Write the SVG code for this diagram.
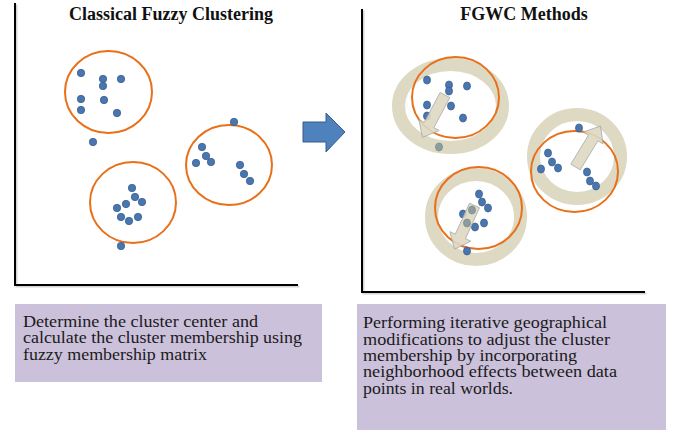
<svg xmlns="http://www.w3.org/2000/svg" width="676" height="430" viewBox="0 0 676 430">
  <style>
    .axis { fill: none; stroke: #000; stroke-width: 2; }
    .axis-shadow { fill: none; stroke: #888; stroke-width: 2; opacity: 0.35; }
    .title { font-family: "Liberation Serif", "Times New Roman", serif; font-size: 18px; font-weight: bold; fill: #111; text-anchor: middle; }
    .note { font-family: "Liberation Serif", "Times New Roman", serif; font-size: 16px; fill: #1a1a1a; }
    .box { fill: #CCC1DA; }
    .ring { fill: none; stroke: #DDD9C3; stroke-width: 13; }
    .member { fill: none; stroke: #E8701A; stroke-width: 2; }
    .pt { fill: #4A76B0; stroke: #3A5F8F; stroke-width: 0.8; }
    .pt-dim { fill: #8C9C9C; stroke: #7E8E8E; stroke-width: 0.8; }
    .shift { fill: #DDD9C3; stroke: #A6A6A6; stroke-width: 0.8; opacity: 0.9; }
  </style>
  <defs>
    <circle id="dot" r="3.7"/>
    <ellipse id="odot" rx="3.5" ry="4"/>
    <!-- block arrow pointing along +x, base centre at origin -->
    <path id="shift-arrow" d="M0,-5.5 L34,-5.5 L34,-11.5 L48,0 L34,11.5 L34,5.5 L0,5.5 Z"/>
  </defs>

  <rect width="676" height="430" fill="#fff"/>

  <!-- left panel: classical fuzzy clustering -->
  <g id="panel-classical">
    <path class="axis-shadow" d="M16.5,4.5 V286.5 H299.5"/>
    <path class="axis" d="M15,3 V285 H298"/>
    <text class="title" x="171" y="20">Classical Fuzzy Clustering</text>
  </g>

  <g id="cluster-c1">
    <ellipse class="member" cx="108.5" cy="92" rx="43.5" ry="41"/>
    <g class="pt">
      <use href="#dot" x="81" y="73"/>
      <use href="#dot" x="103" y="79"/>
      <use href="#dot" x="103" y="86"/>
      <use href="#dot" x="121" y="79"/>
      <use href="#dot" x="81" y="99"/>
      <use href="#dot" x="104" y="100"/>
      <use href="#dot" x="81" y="110"/>
      <use href="#dot" x="117" y="113"/>
      <use href="#dot" x="93" y="142"/>
    </g>
  </g>

  <g id="cluster-c2">
    <ellipse class="member" cx="133" cy="202.5" rx="43" ry="40.5"/>
    <g class="pt">
      <use href="#dot" x="132" y="188"/>
      <use href="#dot" x="135" y="197"/>
      <use href="#dot" x="142" y="202"/>
      <use href="#dot" x="126" y="204"/>
      <use href="#dot" x="117" y="208"/>
      <use href="#dot" x="121" y="217"/>
      <use href="#dot" x="129" y="221"/>
      <use href="#dot" x="138" y="217"/>
      <use href="#dot" x="121" y="246"/>
    </g>
  </g>

  <g id="cluster-c3">
    <ellipse class="member" cx="229" cy="165" rx="43" ry="40"/>
    <g class="pt">
      <use href="#dot" x="234" y="122"/>
      <use href="#dot" x="202" y="147"/>
      <use href="#dot" x="206" y="156"/>
      <use href="#dot" x="211" y="162"/>
      <use href="#dot" x="196" y="163"/>
      <use href="#dot" x="240" y="165"/>
      <use href="#dot" x="244" y="174"/>
      <use href="#dot" x="250" y="181"/>
    </g>
  </g>

  <!-- right panel: FGWC -->
  <g id="panel-fgwc">
    <path class="axis-shadow" d="M363.5,10.5 V293.5 H646.5"/>
    <path class="axis" d="M362,9 V292 H645"/>
    <text class="title" x="524" y="20">FGWC Methods</text>
  </g>

  <g id="cluster-g1">
    <ellipse class="ring" cx="450.5" cy="106" rx="52" ry="41.5"/>
    <ellipse class="member" cx="455.5" cy="97.5" rx="43.5" ry="40.5"/>
    <g class="pt">
      <use href="#odot" x="427" y="80"/>
      <use href="#odot" x="449" y="85"/>
      <use href="#odot" x="449" y="91"/>
      <use href="#odot" x="467" y="86"/>
      <use href="#odot" x="427" y="105"/>
      <use href="#odot" x="451" y="106"/>
      <use href="#odot" x="427" y="116"/>
      <use href="#odot" x="463" y="118"/>
    </g>
    <use class="shift" href="#shift-arrow" transform="translate(445,95) rotate(118)"/>
    <use class="pt-dim" href="#odot" x="439" y="147"/>
  </g>

  <g id="cluster-g2">
    <ellipse class="ring" cx="577" cy="156.5" rx="43.5" ry="42"/>
    <ellipse class="member" cx="574.5" cy="171.5" rx="43.5" ry="40.5"/>
    <g class="pt">
      <use href="#odot" x="548" y="153"/>
      <use href="#odot" x="552" y="162"/>
      <use href="#odot" x="558" y="168"/>
      <use href="#odot" x="541" y="169"/>
      <use href="#odot" x="587" y="172"/>
      <use href="#odot" x="590" y="181"/>
      <use href="#odot" x="596" y="186"/>
    </g>
    <use class="shift" href="#shift-arrow" transform="translate(575.5,167) rotate(-58.6)"/>
    <use class="pt" href="#odot" x="579" y="128"/>
  </g>

  <g id="cluster-g3">
    <ellipse class="ring" cx="476" cy="217" rx="44.5" ry="42.5"/>
    <ellipse class="member" cx="478.5" cy="208" rx="43.5" ry="41"/>
    <g class="pt">
      <use href="#odot" x="479" y="194"/>
      <use href="#odot" x="482" y="202"/>
      <use href="#odot" x="488" y="208"/>
      <use href="#odot" x="463" y="214"/>
      <use href="#odot" x="475" y="227"/>
      <use href="#odot" x="484" y="223"/>
      <use href="#odot" x="467" y="251"/>
    </g>
    <use class="shift" href="#shift-arrow" transform="translate(474.5,205.5) rotate(114.6)"/>
    <g class="pt-dim">
      <use href="#odot" x="472" y="210"/>
      <use href="#odot" x="467" y="223"/>
    </g>
  </g>

  <!-- captions -->
  <g id="note-classical">
    <rect class="box" x="15" y="304" width="307" height="78"/>
    <text class="note" x="23" y="327" textLength="235" lengthAdjust="spacingAndGlyphs">Determine the cluster center and</text>
    <text class="note" x="23" y="343.3" textLength="279" lengthAdjust="spacingAndGlyphs">calculate the cluster membership using</text>
    <text class="note" x="23" y="359.6" textLength="184" lengthAdjust="spacingAndGlyphs">fuzzy membership matrix</text>
  </g>

  <g id="note-fgwc">
    <rect class="box" x="357" y="304" width="309" height="126"/>
    <text class="note" x="363" y="328.3" textLength="244" lengthAdjust="spacingAndGlyphs">Performing iterative geographical</text>
    <text class="note" x="363" y="344.6" textLength="247" lengthAdjust="spacingAndGlyphs">modifications to adjust the cluster</text>
    <text class="note" x="363" y="360.9" textLength="214" lengthAdjust="spacingAndGlyphs">membership by incorporating</text>
    <text class="note" x="363" y="377.2" textLength="254" lengthAdjust="spacingAndGlyphs">neighborhood effects between data</text>
    <text class="note" x="363" y="393.5" textLength="150" lengthAdjust="spacingAndGlyphs">points in real worlds.</text>
  </g>

  <g id="connectors">
    <path d="M303,122 H326 V113 L345,132 L326,152 V142 H303 Z" fill="#4F81BD" stroke="#385D8A" stroke-width="1"/>
  </g>
</svg>
